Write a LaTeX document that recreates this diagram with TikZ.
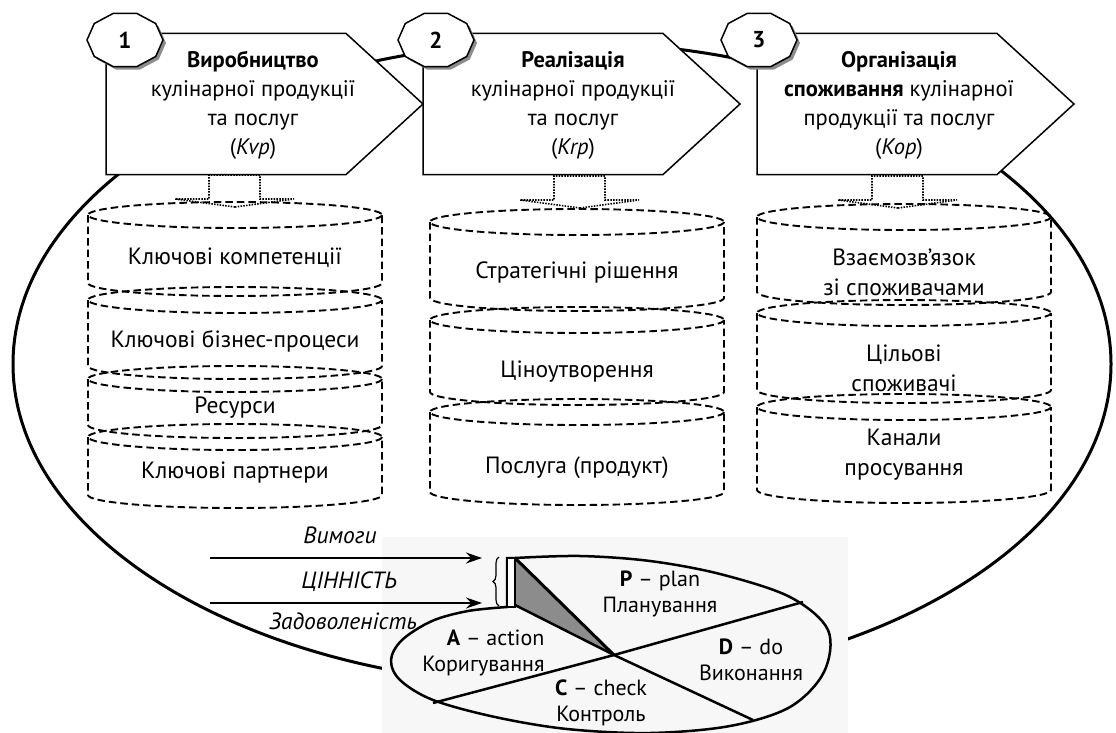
\documentclass[tikz,border=0pt]{standalone}
\usepackage{fontspec}
\setmainfont{PT Sans}
\usetikzlibrary{shapes.symbols, arrows.meta, decorations.pathreplacing}

\tikzset{
  stage/.style={signal, signal to=east, signal pointer angle=85, draw, fill=white,
    line width=1.5pt, minimum width=317pt, minimum height=141pt, inner sep=0pt, outer sep=0pt},
  stagetxt/.style={align=center, font=\fontsize{22.5}{29}\selectfont},
  cyl/.style={line width=1.9pt, dash pattern=on 7.5pt off 4pt},
  cyltxt/.style={align=center, font=\fontsize{23.5}{30}\selectfont},
  link/.style={line width=1.6pt, dash pattern=on 1.5pt off 1.3pt},
  flowlbl/.style={font=\fontsize{23.5}{26}\selectfont\itshape},
  pdcalbl/.style={align=center, font=\fontsize{22}{26}\selectfont},
  wheel/.style={line width=2.5pt},
}

% one dashed layer of a cylinder: centre x, top y, bottom y
\newcommand{\cylseg}[3]{%
  \draw[cyl] (#1,#2) ellipse [x radius=147, y radius=13];
  \draw[cyl] (#1-147,#2) -- (#1-147,#3) arc[start angle=180, end angle=0, x radius=147, y radius=13] -- (#1+147,#2);
}

\begin{document}
\begin{tikzpicture}[x=1pt, y=-1pt]
    \useasboundingbox (0,0) rectangle (1116,733);

    % Big loop behind everything
    \draw[line width=3pt] (562,364) ellipse [x radius=549, y radius=322];

    % Stage arrows
    \node[stage, anchor=west] (kvp) at (106,104) {};
    \node[stage, anchor=west] (krp) at (423,104) {};
    \node[stage, anchor=west] (kop) at (757,104) {};

    % Numbered badges
    \foreach \cx/\lbl in {125/1, 436/2, 759/3}{
      \fill[black!45] plot[samples at={0,36,...,324}] ({\cx+3+38*cos(\x)},{43+28*sin(\x)}) -- cycle;
      \draw[line width=1.5pt, fill=white] plot[samples at={0,36,...,324}] ({\cx+38*cos(\x)},{40+28*sin(\x)}) -- cycle;
      \node[font=\fontsize{23}{26}\selectfont\bfseries] (badge\lbl) at (\cx,40) {\lbl};
    }

    % Stage texts
    \node[stagetxt] (kvptxt) at (253,105) {\textbf{Виробництво}\\кулінарної продукції\\та послуг\\(\textit{Kvp})};
    \node[stagetxt] (krptxt) at (573,105) {\textbf{Реалізація}\\кулінарної продукції\\та послуг\\(\textit{Krp})};
    \node[stagetxt] (koptxt) at (899,105) {\textbf{Організація}\\\textbf{споживання} кулінарної\\продукції та послуг\\(\textit{Kop})};

    % Tips of the dotted links
    \coordinate (top1) at (235,207);
    \coordinate (top2) at (580,208);
    \coordinate (top3) at (898,208);
    \foreach \t in {top1,top2,top3}
      \draw[link] (\t) -- ++(-60,-8) -- ++(34,0) -- ++(0,-24) -- ++(51,0) -- ++(0,24) -- ++(34,0) -- cycle;

    % Cylinders
    \cylseg{235}{215}{283}
    \cylseg{235}{300}{366}
    \cylseg{235}{379}{425}
    \cylseg{235}{437}{495}
    \cylseg{577}{222}{298}
    \cylseg{577}{320}{392}
    \cylseg{577}{412}{492}
    \cylseg{904}{217}{292}
    \cylseg{904}{313}{390}
    \cylseg{904}{407}{490}

    \node[cyltxt] (comp) at (235,258) {Ключові компетенції};
    \node[cyltxt] (proc) at (235,341) {Ключові бізнес-процеси};
    \node[cyltxt] (res) at (235,408) {Ресурси};
    \node[cyltxt] (part) at (235,473) {Ключові партнери};
    \node[cyltxt] (strat) at (577,272) {Стратегічні рішення};
    \node[cyltxt] (price) at (577,372) {Ціноутворення};
    \node[cyltxt] (serv) at (577,468) {Послуга (продукт)};
    \node[cyltxt] (rel) at (904,272) {Взаємозв’язок\\зі споживачами};
    \node[cyltxt] (target) at (904,368) {Цільові\\споживачі};
    \node[cyltxt] (chan) at (904,455) {Канали\\просування};

    % PDCA wheel
    \fill[black!3] (382,537) rectangle (848,733);
    \draw[wheel] plot[smooth, tension=0.55] coordinates {(515,558) (580,556) (650,561) (720,574) (790,597) (828,630) (824,672) (790,707) (730,726) (650,733) (567,729) (495,717) (433,700) (400,680) (391,660) (402,640) (432,621) (468,611) (507,607)} -- (507,558) -- cycle;
    \coordinate (hub) at (614,655);
    \draw[wheel] (433,703) -- (hub) -- (803,602);
    \fill[black!45] (515,558) -- (515,605) -- (hub) -- cycle;
    \draw[wheel] (515,605) -- (hub) -- (753,720);
    \draw[line width=3pt] (515,558) -- (hub);
    \draw[line width=2pt, fill=white] (507,558) rectangle (515,607);

    \node[pdcalbl] (plan) at (660,594) {\textbf{P} – plan\\Планування};
    \node[pdcalbl] (do) at (751,660) {\textbf{D} – do\\Виконання};
    \node[pdcalbl] (check) at (601,703) {\textbf{C} – check\\Контроль};
    \node[pdcalbl, align=right, anchor=east] (act) at (548,653) {\textbf{A} – action\\Коригування};

    % Inputs to the wheel
    \node[flowlbl] (req) at (340,535) {Вимоги};
    \node[flowlbl] (val) at (349,582) {ЦІННІСТЬ};
    \node[flowlbl] (sat) at (343,621) {Задоволеність};
    \coordinate (reqin) at (210,558);
    \coordinate (reqout) at (482,558);
    \coordinate (satin) at (210,603);
    \coordinate (satout) at (482,603);
    \draw[line width=1.2pt, -{Stealth[length=16pt, width=11pt]}] (reqin) -- (reqout);
    \draw[line width=1.2pt, -{Stealth[length=16pt, width=11pt]}] (satin) -- (satout);
    \draw[line width=1.2pt, decorate, decoration={brace, amplitude=6pt}] (499,606) -- (499,557);

\end{tikzpicture}
\end{document}
